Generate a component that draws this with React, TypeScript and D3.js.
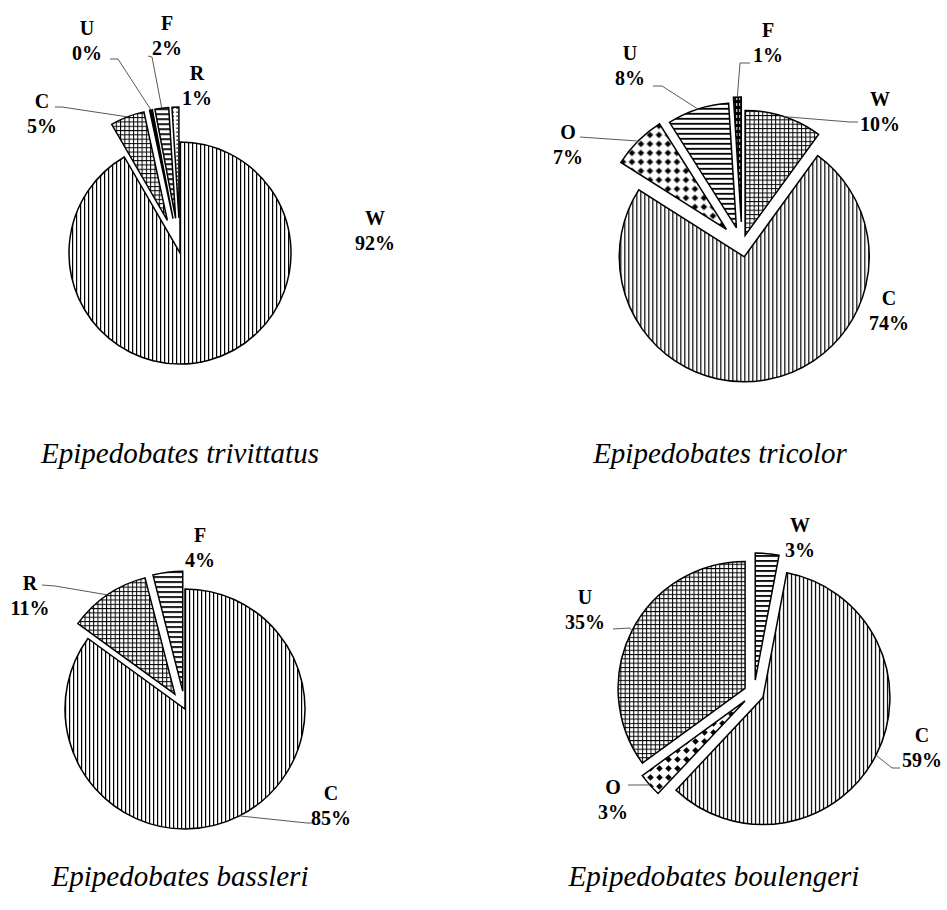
import React from "react";
import * as d3 from "d3";

const width = 947;
const height = 910;

// Epipedobates trivittatus
const trivCats = ["W", "C", "U", "F", "R"];
const trivValues = [92, 5, 0.4, 2, 1];

// Epipedobates tricolor
const tricCats = ["W", "C", "O", "U", "F"];
const tricValues = [10, 74, 7, 8, 1];

// Epipedobates bassleri
const bassCats = ["C", "R", "F"];
const bassValues = [85, 11, 4];

// Epipedobates boulengeri
const boulCats = ["W", "C", "O", "U"];
const boulValues = [3, 59, 3, 35];

const titles = [
  "Epipedobates trivittatus",
  "Epipedobates tricolor",
  "Epipedobates bassleri",
  "Epipedobates boulengeri",
];

type Pt = [number, number];
type TLabel = { x: number; y: number; leader?: Pt[] };
type TLayout = {
  cx: number;
  cy: number;
  r: number;
  explode: number[];
  fills: string[];
  labels: TLabel[];
  titleX: number;
  titleY: number;
};

// layout of each panel (positions in px, explode distance in px)
const layouts: TLayout[] = [
  {
    cx: 180,
    cy: 253,
    r: 111,
    explode: [0, 35, 35, 35, 35],
    fills: ["vert", "grid", "solid", "horiz", "dots"],
    labels: [
      { x: 375, y: 218 },
      { x: 42, y: 101, leader: [[55, 107], [62, 107]] },
      { x: 87, y: 28, leader: [[110, 59], [118, 59]] },
      { x: 167, y: 23, leader: [[148, 56], [152, 57]] },
      { x: 197, y: 73 },
    ],
    titleX: 180,
    titleY: 463,
  },
  {
    cx: 742,
    cy: 245,
    r: 125,
    explode: [10, 12, 22, 18, 23],
    fills: ["grid", "vert", "diamond", "horiz", "darkdash"],
    labels: [
      { x: 880, y: 99, leader: [[858, 122], [850, 122]] },
      { x: 889, y: 298 },
      { x: 568, y: 132, leader: [[580, 137]] },
      { x: 630, y: 53, leader: [[653, 86], [662, 86]] },
      { x: 768, y: 30, leader: [[750, 63], [740, 63]] },
    ],
    titleX: 720,
    titleY: 463,
  },
  {
    cx: 185,
    cy: 709,
    r: 120,
    explode: [0, 18, 18],
    fills: ["vert", "grid", "horiz"],
    labels: [
      { x: 331, y: 793, leader: [[312, 823], [307, 823]] },
      { x: 30, y: 583, leader: [[42, 585], [55, 586]] },
      { x: 200, y: 535 },
    ],
    titleX: 180,
    titleY: 886,
  },
  {
    cx: 754,
    cy: 693,
    r: 127,
    explode: [13, 10, 12, 10],
    fills: ["horiz", "vert", "diamond", "grid"],
    labels: [
      { x: 800, y: 525 },
      { x: 922, y: 735, leader: [[900, 768], [892, 768]] },
      { x: 613, y: 787, leader: [[628, 785], [635, 785]] },
      { x: 585, y: 597, leader: [[613, 629], [630, 628]] },
    ],
    titleX: 714,
    titleY: 886,
  },
];

const serif = "'Liberation Serif', 'Times New Roman', serif";

const Patterns = () => (
  <defs>
    <pattern id="vert" width={4} height={4} patternUnits="userSpaceOnUse">
      <rect width={4} height={4} fill="#fff" />
      <rect x={0} y={0} width={1.2} height={4} fill="#000" />
    </pattern>
    <pattern id="horiz" width={5} height={5} patternUnits="userSpaceOnUse">
      <rect width={5} height={5} fill="#fff" />
      <rect x={0} y={0} width={5} height={1.8} fill="#000" />
    </pattern>
    <pattern id="grid" width={4.3} height={4.3} patternUnits="userSpaceOnUse">
      <rect width={4.3} height={4.3} fill="#fff" />
      <rect x={0} y={0} width={1} height={4.3} fill="#000" />
      <rect x={0} y={0} width={4.3} height={1} fill="#000" />
    </pattern>
    <pattern id="diamond" width={9} height={9} patternUnits="userSpaceOnUse">
      <rect width={9} height={9} fill="#fff" />
      <path d="M4.5,1.2 L7.8,4.5 L4.5,7.8 L1.2,4.5 Z" fill="#000" />
    </pattern>
    <pattern id="dots" width={4} height={4} patternUnits="userSpaceOnUse">
      <rect width={4} height={4} fill="#fff" />
      <rect x={1.5} y={1.5} width={1.4} height={1.4} fill="#000" />
    </pattern>
    <pattern id="darkdash" width={3} height={6} patternUnits="userSpaceOnUse">
      <rect width={3} height={6} fill="#000" />
      <rect x={1} y={1} width={1} height={3} fill="#fff" />
    </pattern>
    <pattern id="solid" width={4} height={4} patternUnits="userSpaceOnUse">
      <rect width={4} height={4} fill="#000" />
    </pattern>
  </defs>
);

type TPieProps = {
  cats: string[];
  values: number[];
  layout: TLayout;
  title: string;
};

const PieChart = ({ cats, values, layout, title }: TPieProps) => {
  const total = d3.sum(values);
  const pie = d3
    .pie<number>()
    .sort(null)
    .value((d) => d);
  const arc = d3
    .arc<d3.PieArcDatum<number>>()
    .innerRadius(0)
    .outerRadius(layout.r);
  // each slice is pushed out along its own mid angle
  const slices = pie(values).map((a, i) => {
    const mid = (a.startAngle + a.endAngle) / 2;
    const e = layout.explode[i];
    const ox = layout.cx + e * Math.sin(mid);
    const oy = layout.cy - e * Math.cos(mid);
    return { a, i, mid, ox, oy };
  });

  return (
    <g>
      {slices.map((s) => (
        <path
          key={s.i}
          d={arc(s.a) || ""}
          transform={`translate(${s.ox},${s.oy})`}
          fill={`url(#${layout.fills[s.i]})`}
          stroke="#000"
          strokeWidth={1.5}
        />
      ))}
      {slices.map((s) => {
        const lab = layout.labels[s.i];
        if (!lab.leader) return null;
        const target: Pt = [
          s.ox + layout.r * Math.sin(s.mid),
          s.oy - layout.r * Math.cos(s.mid),
        ];
        const line = d3.line()([...lab.leader, target]);
        return (
          <path
            key={"l" + s.i}
            d={line || ""}
            fill="none"
            stroke="#595959"
            strokeWidth={1}
          />
        );
      })}
      {slices.map((s) => {
        const lab = layout.labels[s.i];
        const pct = Math.round((values[s.i] / total) * 100);
        return (
          <text
            key={"t" + s.i}
            x={lab.x}
            y={lab.y}
            textAnchor="middle"
            fontFamily={serif}
            fontWeight="bold"
            fontSize={20}
            fill="#000"
          >
            <tspan x={lab.x} dy="0.35em">
              {cats[s.i]}
            </tspan>
            <tspan x={lab.x} dy="1.25em">
              {pct}%
            </tspan>
          </text>
        );
      })}
      <text
        x={layout.titleX}
        y={layout.titleY}
        textAnchor="middle"
        fontFamily={serif}
        fontStyle="italic"
        fontSize={29}
        fill="#000"
      >
        {title}
      </text>
    </g>
  );
};

const App = () => {
  const sets = [
    { cats: trivCats, values: trivValues },
    { cats: tricCats, values: tricValues },
    { cats: bassCats, values: bassValues },
    { cats: boulCats, values: boulValues },
  ];
  return (
    <svg
      width={width}
      height={height}
      style={{ position: "absolute", left: 0, top: 0, background: "#fff" }}
    >
      <Patterns />
      <rect width={width} height={height} fill="#fff" />
      {sets.map((s, i) => (
        <PieChart
          key={i}
          cats={s.cats}
          values={s.values}
          layout={layouts[i]}
          title={titles[i]}
        />
      ))}
    </svg>
  );
};

export default App;
